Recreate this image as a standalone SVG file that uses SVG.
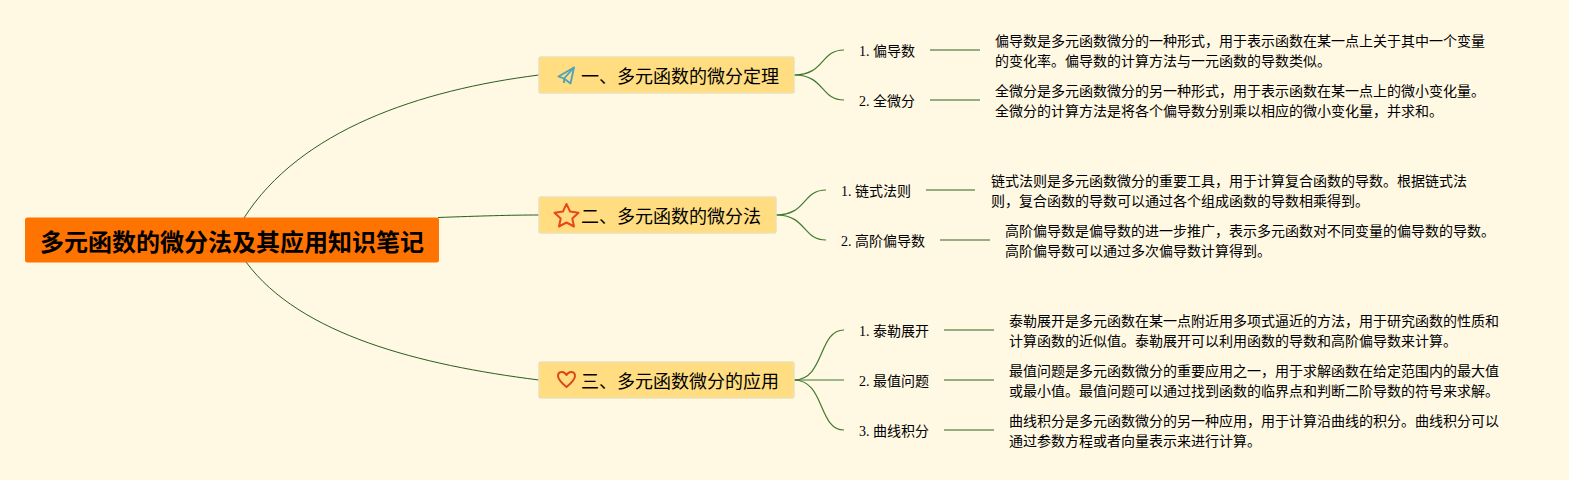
<svg xmlns="http://www.w3.org/2000/svg" width="1569" height="480" viewBox="0 0 1569 480">
<style>
text{font-family:"Liberation Serif","Noto Sans CJK SC",serif;fill:#000}
.root{font-size:24px;font-weight:700;font-family:"Liberation Sans","Noto Sans CJK SC",sans-serif}
.b{font-size:18px}
.s,.d{font-size:14px}
.c{fill:none;stroke:#275f1f;stroke-width:1}
.c2{fill:none;stroke:#3f7a30;stroke-width:1.2}
.u{fill:none;stroke:#6f9660;stroke-width:1.500}
.box{fill:#ffdd80;stroke:#ebdfb4;stroke-width:1.500}
</style>
<rect width="1569" height="480" fill="#fff8e3"/>
<g id="connectors">
<path class="c" d="M244 218C300 130 420 90 539 75"/>
<path class="c" d="M438 217.500C480 216 510 215 539 215"/>
<path class="c" d="M246 262C300 335 420 365 539 380"/>
<path class="c2" d="M794 75C825 75 820 50 844 50"/>
<path class="c2" d="M794 75C825 75 820 100 844 100"/>
<path class="c2" d="M776 215C807 215 802 190 826 190"/>
<path class="c2" d="M776 215C807 215 802 240 826 240"/>
<path class="c2" d="M794 380C825 380 818 330 844 330"/>
<path class="c2" d="M794 380H844"/>
<path class="c2" d="M794 380C825 380 818 430 844 430"/>
<path class="u" d="M930 50H980"/>
<path class="u" d="M930 100H980"/>
<path class="u" d="M926 190H975"/>
<path class="u" d="M940 240H990"/>
<path class="u" d="M944 330H994"/>
<path class="u" d="M944 380H994"/>
<path class="u" d="M944 430H994"/>
</g>
<g id="root"><rect x="25" y="217.500" width="414" height="45" rx="2.500" fill="#ff7300"/><text class="root" x="232" y="251" text-anchor="middle">多元函数的微分法及其应用知识笔记</text></g>
<g id="b1"><rect class="box" x="539" y="57" width="255" height="36" rx="2"/>
<g fill="none" stroke="#4aa3bd" stroke-width="1.800" stroke-linejoin="round"><path d="M574 67.500L558.500 76.500L564 78.500L570.500 83.500Z"/><path d="M574 67.500L564 78.500V83"/></g>
<text class="b" x="581" y="82.500">一、多元函数的微分定理</text></g>
<g id="b2"><rect class="box" x="539" y="197" width="237" height="36" rx="2"/>
<path d="M566.500 204L570.100 211.600L578.500 212.700L572.300 218.500L574 226.500L566.500 222.500L559 226.500L560.700 218.500L554.500 212.700L562.900 211.600Z" fill="none" stroke="#e8481c" stroke-width="2" stroke-linejoin="round"/>
<text class="b" x="581" y="222.500">二、多元函数的微分法</text></g>
<g id="b3"><rect class="box" x="539" y="362" width="255" height="36" rx="2"/>
<path d="M566.500 387C561 382.500 558 379.500 558 376C558 371 564 370.500 566.500 375C569 370.500 575 371 575 376C575 379.500 572 382.500 566.500 387Z" fill="none" stroke="#d9481c" stroke-width="2" stroke-linejoin="round"/>
<text class="b" x="581" y="387.500">三、多元函数微分的应用</text></g>
<g id="s11"><text class="s" x="859" y="56">1. 偏导数</text></g>
<g id="d11"><text class="d" x="995" y="46">偏导数是多元函数微分的一种形式，用于表示函数在某一点上关于其中一个变量</text><text class="d" x="995" y="66">的变化率。偏导数的计算方法与一元函数的导数类似。</text></g>
<g id="s12"><text class="s" x="859" y="106">2. 全微分</text></g>
<g id="d12"><text class="d" x="995" y="96">全微分是多元函数微分的另一种形式，用于表示函数在某一点上的微小变化量。</text><text class="d" x="995" y="116">全微分的计算方法是将各个偏导数分别乘以相应的微小变化量，并求和。</text></g>
<g id="s21"><text class="s" x="841" y="196">1. 链式法则</text></g>
<g id="d21"><text class="d" x="991" y="186">链式法则是多元函数微分的重要工具，用于计算复合函数的导数。根据链式法</text><text class="d" x="991" y="206">则，复合函数的导数可以通过各个组成函数的导数相乘得到。</text></g>
<g id="s22"><text class="s" x="841" y="246">2. 高阶偏导数</text></g>
<g id="d22"><text class="d" x="1005" y="236">高阶偏导数是偏导数的进一步推广，表示多元函数对不同变量的偏导数的导数。</text><text class="d" x="1005" y="256">高阶偏导数可以通过多次偏导数计算得到。</text></g>
<g id="s31"><text class="s" x="859" y="336">1. 泰勒展开</text></g>
<g id="d31"><text class="d" x="1009" y="326">泰勒展开是多元函数在某一点附近用多项式逼近的方法，用于研究函数的性质和</text><text class="d" x="1009" y="346">计算函数的近似值。泰勒展开可以利用函数的导数和高阶偏导数来计算。</text></g>
<g id="s32"><text class="s" x="859" y="386">2. 最值问题</text></g>
<g id="d32"><text class="d" x="1009" y="376">最值问题是多元函数微分的重要应用之一，用于求解函数在给定范围内的最大值</text><text class="d" x="1009" y="396">或最小值。最值问题可以通过找到函数的临界点和判断二阶导数的符号来求解。</text></g>
<g id="s33"><text class="s" x="859" y="436">3. 曲线积分</text></g>
<g id="d33"><text class="d" x="1009" y="426">曲线积分是多元函数微分的另一种应用，用于计算沿曲线的积分。曲线积分可以</text><text class="d" x="1009" y="446">通过参数方程或者向量表示来进行计算。</text></g>
</svg>
